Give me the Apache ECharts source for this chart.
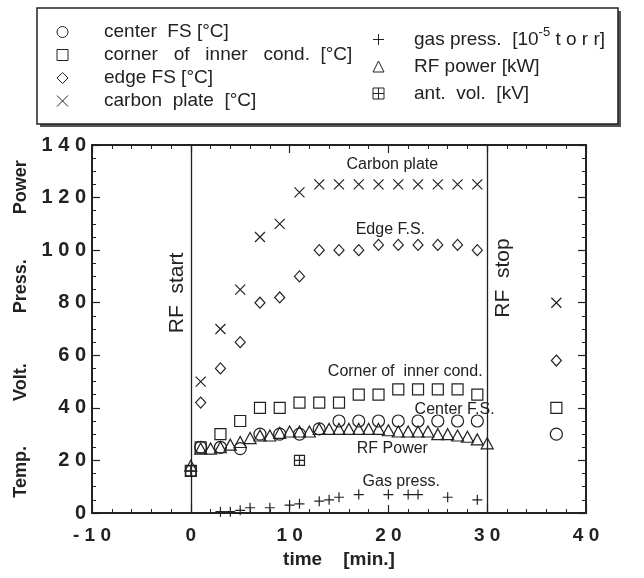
<!DOCTYPE html>
<html><head><meta charset="utf-8">
<script src="https://cdn.jsdelivr.net/npm/echarts@6/dist/echarts.min.js"></script>
<style>html,body{margin:0;padding:0;background:#fff}#c{width:644px;height:578px}</style>
</head><body><div id="c"></div>
<script>
// ---- data ----
const centerT = [1,3,5,7,9,11,13,15,17,19,21,23,25,27,29,37];
const centerV = [25,25,24.5,30,30,30,32,35,35,35,35,35,35,35,35,30];
const cornerT = [0,1,3,5,7,9,11,13,15,17,19,21,23,25,27,29,37];
const cornerV = [16,25,30,35,40,40,42,42,42,45,45,47,47,47,47,45,40];
const edgeT = [1,3,5,7,9,11,13,15,17,19,21,23,25,27,29,37];
const edgeV = [42,55,65,80,82,90,100,100,100,102,102,102,102,102,100,58];
const carbonT = [1,3,5,7,9,11,13,15,17,19,21,23,25,27,29,37];
const carbonV = [50,70,85,105,110,122,125,125,125,125,125,125,125,125,125,80];
const gasT = [3,4,5,6,8,10,11,13,14,15,17,20,22,23,26,29];
const gasV = [0.5,0.5,1,2,2,3,3.5,4.5,5,6,7,7,7,7,6,5];
const rfT = [0,1,2,3,4,5,6,7,8,9,10,11,12,13,14,15,16,17,18,19,20,21,22,23,24,25,26,27,28,29,30];
const rfV = [18,24.5,24.5,25,26,27,28.5,29.5,29.5,30.5,31,31,31,32,32,32,32,32,32,32,31.5,31,31,31,31,30,30,29.5,29,28,26.5];
const antT = [0,11];
const antV = [16,20];
const rfMarks = [0,30];
const xTicks = [-10,0,10,20,30,40];
const yTicks = [0,20,40,60,80,100,120,140];

const names = {
  center: 'center  FS [°C]',
  corner: 'corner   of   inner   cond.  [°C]',
  edge: 'edge FS [°C]',
  carbon: 'carbon  plate  [°C]',
  gas: 'gas press. [10-5 torr]',
  rf: 'RF power [kW]',
  ant: 'ant.  vol.  [kV]'
};

const INK = '#222';
const FONT = "'Liberation Sans', Arial, sans-serif";
const zip = (a,b) => a.map((v,i)=>[v,b[i]]);
const spaced = v => String(v).split('').join(' ');

function sc(name, t, v, symbol, size, extra) {
  return Object.assign({
    type: 'scatter', name, data: zip(t, v), symbol, symbolSize: size,
    itemStyle: { color: 'rgba(0,0,0,0)', borderColor: INK, borderWidth: 1.2, opacity: 1 },
    emphasis: { disabled: true }, silent: true, z: 3
  }, extra || {});
}

const series = [
  sc(names.center, centerT, centerV, 'circle', 12),
  sc(names.corner, cornerT, cornerV, 'rect', 11),
  sc(names.edge, edgeT, edgeV, 'diamond', [10,11]),
  sc(names.carbon, carbonT, carbonV, 'path://M0,0L10,10M10,0L0,10', 10),
  sc(names.gas, gasT, gasV, 'path://M5,0L5,10M0,5L10,5', 10),
  sc(names.rf, rfT, rfV, 'triangle', [12,11]),
  sc(names.ant, antT, antV, 'path://M0,0L10,0L10,10L0,10ZM5,0L5,10M0,5L10,5', 10, {
    markLine: {
      silent: true, symbol: 'none', animation: false,
      lineStyle: { color: INK, width: 1.3, type: 'solid' },
      label: { show: false },
      data: rfMarks.map(x => ({ xAxis: x }))
    }
  })
];

const legendText = {
  fontSize: 19, fontFamily: FONT, color: INK, lineHeight: 19,
  rich: {
    t: { fontSize: 19, fontFamily: FONT, color: INK },
    s: { fontSize: 13, fontFamily: FONT, color: INK, verticalAlign: 'bottom', padding: [0,0,10,0] }
  }
};
const legendItem = { color: 'rgba(0,0,0,0)', borderColor: INK, borderWidth: 1 };

const axisCommon = {
  type: 'value',
  axisLine: { show: true, onZero: false, lineStyle: { color: INK, width: 2 } },
  axisTick: { show: true, inside: true, length: 8, lineStyle: { color: INK, width: 1.2 } },
  splitLine: { show: false }
};

const option = {
  backgroundColor: '#fff',
  animation: false,
  textStyle: { fontFamily: FONT },
  grid: { left: 92, top: 145, width: 494, height: 368 },
  legend: [
    {
      data: [names.center, names.corner, names.edge, names.carbon],
      orient: 'vertical', left: 51.5, top: 17.5, itemWidth: 11, itemHeight: 11, itemGap: 4,
      selectedMode: false, itemStyle: legendItem,
      textStyle: Object.assign({}, legendText, { padding: [0,0,0,31] })
    },
    {
      data: [names.gas, names.rf, names.ant],
      orient: 'vertical', left: 367.5, top: 21, itemWidth: 11, itemHeight: 11, itemGap: 8,
      selectedMode: false, itemStyle: legendItem,
      formatter: n => n === names.gas ? '{t|gas press.  [10}{s|-5}{t| t o r r]}' : n,
      textStyle: Object.assign({}, legendText, { padding: [0,0,0,25] })
    }
  ],
  xAxis: [
    Object.assign({}, axisCommon, {
      min: xTicks[0], max: xTicks[xTicks.length-1], interval: 10,
      name: 'time    [min.]', nameLocation: 'middle', nameGap: 35,
      nameTextStyle: { fontSize: 19, fontWeight: 'bold', color: INK, fontFamily: FONT },
      minorTick: { show: true, splitNumber: 5, length: 4, lineStyle: { color: INK, width: 1 } },
      axisLabel: { fontSize: 19, fontWeight: 'bold', color: INK, margin: 13, formatter: spaced }
    }),
    Object.assign({}, axisCommon, {
      position: 'top', min: xTicks[0], max: xTicks[xTicks.length-1], interval: 10,
      minorTick: { show: true, splitNumber: 5, length: 4, lineStyle: { color: INK, width: 1 } },
      axisLabel: { show: false }
    })
  ],
  yAxis: [
    Object.assign({}, axisCommon, {
      min: yTicks[0], max: yTicks[yTicks.length-1], interval: 20,
      name: 'Temp.         Volt.          Press.         Power', nameLocation: 'middle', nameGap: 62, nameRotate: 90,
      nameTextStyle: { fontSize: 18, fontWeight: 'bold', color: INK, fontFamily: FONT },
      minorTick: { show: true, splitNumber: 4, length: 4, lineStyle: { color: INK, width: 1 } },
      axisLabel: { fontSize: 20, fontWeight: 'bold', color: INK, margin: 6, formatter: spaced }
    }),
    Object.assign({}, axisCommon, {
      position: 'right', min: yTicks[0], max: yTicks[yTicks.length-1], interval: 20,
      minorTick: { show: true, splitNumber: 4, length: 4, lineStyle: { color: INK, width: 1 } },
      axisLabel: { show: false }
    })
  ],
  series
};

const chart = echarts.init(document.getElementById('c'), null, { renderer: 'canvas' });
chart.setOption(option);

// annotations placed in data coordinates
const notes = [
  { text: 'Carbon plate', at: [20.4, 132.4], size: 16 },
  { text: 'Edge F.S.', at: [20.2, 108], size: 16 },
  { text: 'Corner of  inner cond.', at: [21.7, 53.7], size: 16 },
  { text: 'Center F.S.', at: [26.7, 39.4], size: 16 },
  { text: 'RF Power', at: [20.4, 24.6], size: 16 },
  { text: 'Gas press.', at: [21.3, 11.9], size: 16 }
];
const vnotes = [
  { text: 'RF  start', at: [-1.35, 83.7] },
  { text: 'RF  stop', at: [31.6, 89.4] }
];
const px = p => chart.convertToPixel({ xAxisIndex: 0, yAxisIndex: 0 }, p);
const graphic = [
  { type: 'rect', shape: { x: 40, y: 11, width: 581, height: 116 }, style: { fill: '#555' }, z: -10 },
  { type: 'rect', shape: { x: 37, y: 8, width: 581, height: 116 }, style: { fill: '#fff', stroke: INK, lineWidth: 1.5 }, z: -9 }
];
notes.forEach(n => {
  const p = px(n.at);
  graphic.push({ type: 'text', x: p[0], y: p[1], z: 5, silent: true,
    style: { text: n.text, fontSize: n.size, fontFamily: FONT, fill: INK, align: 'center', verticalAlign: 'middle' } });
});
vnotes.forEach(n => {
  const p = px(n.at);
  graphic.push({ type: 'text', x: p[0], y: p[1], rotation: Math.PI/2, z: 5, silent: true,
    style: { text: n.text, fontSize: 21, fontFamily: FONT, fill: INK, align: 'center', verticalAlign: 'middle' } });
});
chart.setOption({ graphic });
</script></body></html>
